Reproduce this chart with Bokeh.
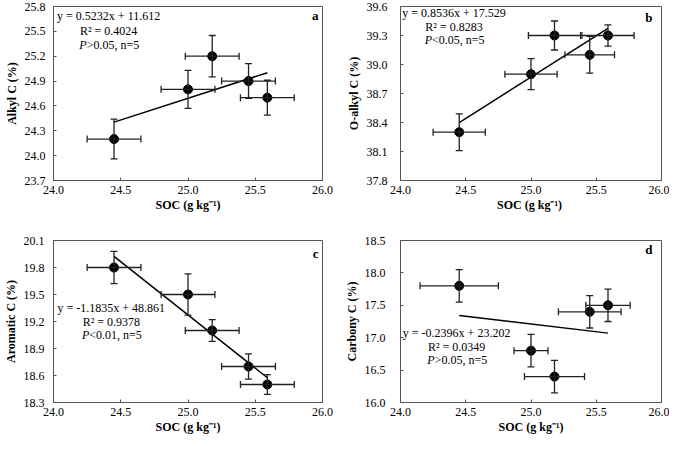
from bokeh.plotting import figure
from bokeh.models import ColumnDataSource, Whisker, TeeHead, FixedTicker, Range1d, PrintfTickFormatter
from bokeh.layouts import column, row
from bokeh.embed import file_html
from bokeh.resources import INLINE
from bokeh.core.properties import value

# ---- data ----
soc = [24.45, 25.00, 25.18, 25.45, 25.59]
soc_ticks = [24.0, 24.5, 25.0, 25.5, 26.0]

alkyl = [24.2, 24.8, 25.2, 24.9, 24.7]
alkyl_yerr = [0.24, 0.23, 0.25, 0.21, 0.21]
alkyl_xerr = [0.2, 0.2, 0.2, 0.2, 0.2]
alkyl_ticks = [23.7, 24.0, 24.3, 24.6, 24.9, 25.2, 25.5, 25.8]
alkyl_fit = [0.5232, 11.612]
alkyl_text = ["y = 0.5232x + 11.612", "R\u00b2 = 0.4024", ">0.05, n=5"]

oalkyl = [38.3, 38.9, 39.3, 39.1, 39.3]
oalkyl_yerr = [0.19, 0.16, 0.15, 0.19, 0.11]
oalkyl_xerr = [0.2, 0.2, 0.2, 0.19, 0.2]
oalkyl_ticks = [37.8, 38.1, 38.4, 38.7, 39.0, 39.3, 39.6]
oalkyl_fit = [0.8536, 17.529]
oalkyl_text = ["y = 0.8536x + 17.529", "R\u00b2 = 0.8283", "<0.05, n=5"]

aromatic = [19.8, 19.5, 19.1, 18.7, 18.5]
aromatic_yerr = [0.18, 0.23, 0.12, 0.14, 0.11]
aromatic_xerr = [0.2, 0.2, 0.2, 0.2, 0.2]
aromatic_ticks = [18.3, 18.6, 18.9, 19.2, 19.5, 19.8, 20.1]
aromatic_fit = [-1.1835, 48.861]
aromatic_text = ["y = -1.1835x + 48.861", "R\u00b2 = 0.9378", "<0.01, n=5"]

carbony = [17.8, 16.8, 16.4, 17.4, 17.5]
carbony_yerr = [0.25, 0.25, 0.25, 0.25, 0.25]
carbony_xerr = [0.3, 0.13, 0.23, 0.24, 0.17]
carbony_ticks = [16.0, 16.5, 17.0, 17.5, 18.0, 18.5]
carbony_fit = [-0.2396, 23.202]
carbony_text = ["y = -0.2396x + 23.202", "R\u00b2 = 0.0349", ">0.05, n=5"]

FONT = "Liberation Serif"
BAR = "#222222"
FRAME = "#555555"


def panel(x, y, xerr, yerr, yticks, fit, texts, text_x, text_ys, letter, letter_xy,
          ylabel, xlabel, w, h, bl, br, bt, bb, ystand, ylstand):
    p = figure(width=w, height=h, output_backend="svg", toolbar_location=None,
               x_range=Range1d(soc_ticks[0], soc_ticks[-1]),
               y_range=Range1d(yticks[0], yticks[-1]),
               min_border_left=bl, min_border_right=br, min_border_top=bt, min_border_bottom=bb)
    p.background_fill_color = "white"
    p.border_fill_color = "white"
    p.outline_line_color = FRAME
    p.outline_line_width = 1
    p.xgrid.visible = False
    p.ygrid.visible = False
    p.xaxis.ticker = FixedTicker(ticks=soc_ticks)
    p.yaxis.ticker = FixedTicker(ticks=yticks)
    p.xaxis.formatter = PrintfTickFormatter(format="%.1f")
    p.yaxis.formatter = PrintfTickFormatter(format="%.1f")
    for ax in (p.xaxis[0], p.yaxis[0]):
        ax.axis_line_color = FRAME
        ax.major_tick_line_color = FRAME
        ax.major_tick_in = 3
        ax.major_tick_out = 0
        ax.minor_tick_line_color = None
        ax.major_label_text_font = FONT
        ax.major_label_text_font_size = "12px"
        ax.major_label_text_color = "black"
        ax.axis_label_text_font = FONT
        ax.axis_label_text_font_size = "12px"
        ax.axis_label_text_font_style = "bold"
        ax.axis_label_text_color = "black"
    p.xaxis.axis_label = xlabel
    p.yaxis.axis_label = ylabel
    p.xaxis.major_label_standoff = 5
    p.xaxis.axis_label_standoff = 1
    p.yaxis.major_label_standoff = ystand
    p.yaxis.axis_label_standoff = ylstand

    src = ColumnDataSource(dict(
        x=x, y=y,
        xl=[a - e for a, e in zip(x, xerr)], xu=[a + e for a, e in zip(x, xerr)],
        yl=[b - e for b, e in zip(y, yerr)], yu=[b + e for b, e in zip(y, yerr)],
    ))
    for dim, lo, hi, base in (("height", "yl", "yu", "x"), ("width", "xl", "xu", "y")):
        p.add_layout(Whisker(source=src, base=base, lower=lo, upper=hi, dimension=dim,
                             line_color=BAR, line_width=1.3, level="glyph",
                             lower_head=TeeHead(size=7, line_color=BAR, line_width=1.3),
                             upper_head=TeeHead(size=7, line_color=BAR, line_width=1.3)))

    lx = [min(x), max(x)]
    ly = [fit[0] * v + fit[1] for v in lx]
    p.line(lx, ly, line_color="black", line_width=1.5)
    p.scatter("x", "y", source=src, size=9, color="black")

    tf = value(FONT)
    p.text(x=[text_x, text_x], y=text_ys[:2], text=texts[:2], text_font=tf,
           text_font_size="12px", text_align="center", text_baseline="middle", text_color="black")
    # third line: italic P + rest, centred as a whole
    p.text(x=[text_x], y=[text_ys[2]], text=["P"], text_font=tf, text_font_style="italic",
           text_font_size="12px", text_align="right", text_baseline="middle", text_color="black",
           x_offset=-22)
    p.text(x=[text_x], y=[text_ys[2]], text=[texts[2]], text_font=tf,
           text_font_size="12px", text_align="left", text_baseline="middle", text_color="black",
           x_offset=-22)
    p.text(x=[letter_xy[0]], y=[letter_xy[1]], text=[letter], text_font=tf, text_font_style="bold",
           text_font_size="13px", text_align="right", text_baseline="middle", text_color="black")
    return p


pa = panel(soc, alkyl, alkyl_xerr, alkyl_yerr, alkyl_ticks, alkyl_fit, alkyl_text,
           24.41, [25.69, 25.51, 25.34], "a", (25.97, 25.69),
           "Alkyl C (%)", "SOC (g kg\u207b\u00b9)", 334, 218, 53, 12, 6, 38, 8, 3)
pb = panel(soc, oalkyl, oalkyl_xerr, oalkyl_yerr, oalkyl_ticks, oalkyl_fit, oalkyl_text,
           24.41, [39.53, 39.39, 39.25], "b", (25.93, 39.49),
           "O-alkyl C (%)", "SOC  (g kg\u207b\u00b9)", 335, 218, 66, 8, 6, 38, 13, 3)
pc = panel(soc, aromatic, aromatic_xerr, aromatic_yerr, aromatic_ticks, aromatic_fit, aromatic_text,
           24.43, [19.35, 19.20, 19.05], "c", (25.97, 19.96),
           "Aromatic C (%)", "SOC (g kg\u207b\u00b9)", 334, 220, 53, 12, 22, 36, 9, 3)
pd_ = panel(soc, carbony, carbony_xerr, carbony_yerr, carbony_ticks, carbony_fit, carbony_text,
            24.43, [17.07, 16.86, 16.65], "d", (25.93, 18.36),
            "Carbony C (%)", "SOC (g kg\u207b\u00b9)", 335, 220, 66, 8, 20, 36, 15, 3)

layout = column(row(pa, pb), row(pc, pd_))
open("out.html", "w").write(file_html(layout, INLINE))
